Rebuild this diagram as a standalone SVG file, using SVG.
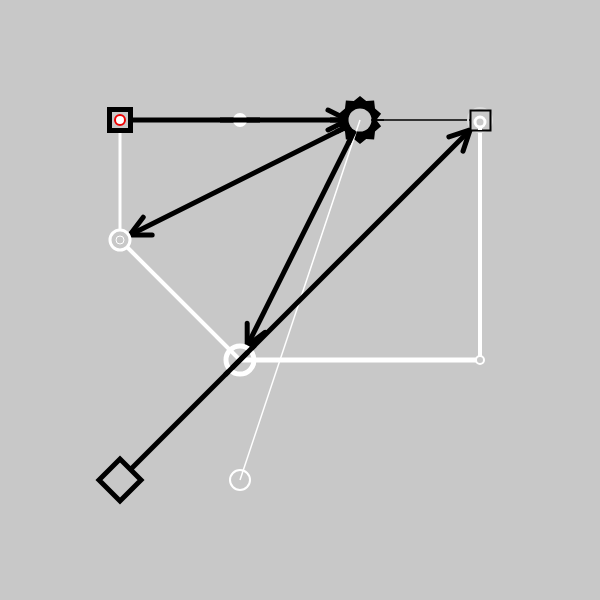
<svg xmlns="http://www.w3.org/2000/svg" width="600" height="600" viewBox="0 0 600 600">
<defs>
<style>
.w{stroke:#fff;fill:none}
.k{stroke:#000;fill:none}
.arr{stroke:#000;stroke-width:5;fill:none;marker-end:url(#ah)}
</style>
<marker id="ah" markerUnits="userSpaceOnUse" viewBox="-25 -15 30 30" refX="0" refY="0" markerWidth="30" markerHeight="30" orient="auto" overflow="visible">
<path d="M-20,-10 L0,0 L-20,10" fill="none" stroke="#000" stroke-width="5" stroke-linecap="round" stroke-linejoin="round"/>
</marker>
</defs>
<rect width="600" height="600" fill="#c8c8c8"/>
<g id="connectors">
<line class="w" x1="120" y1="120" x2="120" y2="240" stroke-width="3"/>
<line class="w" x1="120" y1="240" x2="240" y2="360" stroke-width="4"/>
<line class="w" x1="240" y1="360" x2="480" y2="360" stroke-width="5"/>
<line class="w" x1="480" y1="360" x2="480" y2="122" stroke-width="4"/>
<line class="w" x1="360" y1="120" x2="240" y2="480" stroke-width="1.5"/>
<line class="k" x1="360" y1="120" x2="480" y2="120" stroke-width="1.5"/>
<line class="arr" x1="133" y1="120" x2="348" y2="120"/>
<line class="arr" x1="349.3" y1="125.4" x2="129.8" y2="235.1"/>
<line class="arr" x1="354.6" y1="130.7" x2="247.2" y2="345.7"/>
<line class="arr" x1="131" y1="469" x2="470.1" y2="129.9"/>
</g>
<g id="nodeA">
<rect x="109.5" y="109.5" width="21" height="21" fill="#c8c8c8" stroke="#000" stroke-width="5"/>
<circle cx="120" cy="120" r="5" fill="#fff" stroke="#e00" stroke-width="2"/>
</g>
<g id="nodeB">
<circle cx="240" cy="120" r="7" fill="#fff"/>
<line x1="220" y1="120" x2="260" y2="120" stroke="#000" stroke-width="5"/>
</g>
<g id="nodeC">
<polygon points="360,96 366.2,101.0 374.1,100.6 375.0,108.5 381.1,113.7 376.3,120 381.1,126.3 375.0,131.5 374.1,139.4 366.2,139.0 360,144 353.8,139.0 345.9,139.4 345.0,131.5 338.9,126.3 343.7,120 338.9,113.7 345.0,108.5 345.9,100.6 353.8,101.0" fill="#000"/>
<circle cx="360" cy="120" r="11.5" fill="#c8c8c8"/>
<line x1="360" y1="120" x2="353" y2="141" stroke="#fff" stroke-width="1.5"/>
<line x1="349.3" y1="125.4" x2="336" y2="132" stroke="#000" stroke-width="5"/>
<line x1="354.6" y1="130.7" x2="348" y2="144" stroke="#000" stroke-width="5"/>
<line x1="330" y1="120" x2="348" y2="120" stroke="#000" stroke-width="5"/>
<line x1="371" y1="120" x2="384" y2="120" stroke="#000" stroke-width="1.5"/>
</g>
<g id="nodeD">
<circle cx="480" cy="120" r="12" fill="none" stroke="#ddd" stroke-width="2"/>
<rect x="470.5" y="110.5" width="20" height="20" fill="#c8c8c8" stroke="#000" stroke-width="2"/>
<circle cx="480" cy="122" r="5" fill="none" stroke="#fff" stroke-width="3"/>
<line x1="480" y1="127" x2="480" y2="130" stroke="#fff" stroke-width="4"/>
</g>
<g id="nodeE">
<circle cx="120" cy="240" r="10" fill="#c8c8c8" stroke="#fff" stroke-width="3"/>
<circle cx="120" cy="240" r="4" fill="none" stroke="#fff" stroke-width="1"/>
</g>
<g id="nodeF">
<circle cx="240" cy="360" r="14" fill="none" stroke="#fff" stroke-width="5"/>
<line x1="225" y1="375" x2="255" y2="345" stroke="#000" stroke-width="5"/>
</g>
<g id="nodeG">
<circle cx="480" cy="360" r="4" fill="#c8c8c8" stroke="#fff" stroke-width="2"/>
</g>
<g id="nodeH">
<polygon points="120,459 141,480 120,501 99,480" fill="#c8c8c8" stroke="#000" stroke-width="5"/>
</g>
<g id="nodeI">
<circle cx="240" cy="480" r="10" fill="none" stroke="#fff" stroke-width="2"/>
</g>
</svg>
